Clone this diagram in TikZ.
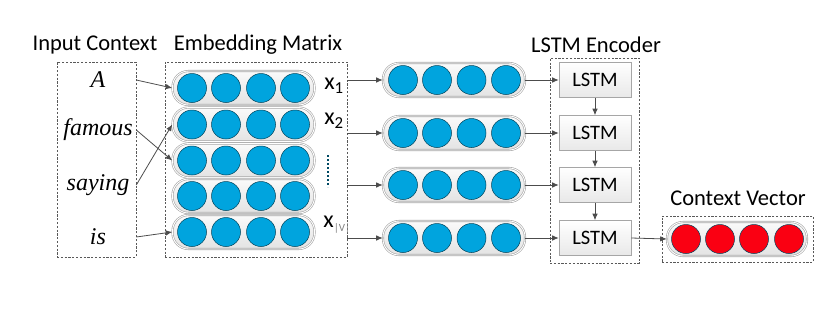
\documentclass[tikz,border=0pt]{standalone}
\usepackage{fontspec}
\setmainfont{Carlito}
\newfontfamily\wordfont{Liberation Serif}
\usetikzlibrary{arrows.meta,positioning}
\definecolor{unitblue}{RGB}{0,164,222}
\definecolor{unitred}{RGB}{250,0,18}
\begin{document}
\begin{tikzpicture}[
  x=1pt, y=-1pt,
  title/.style={font=\fontsize{22.5}{24}\selectfont, inner sep=0pt},
  word/.style={font=\wordfont\itshape\fontsize{24}{26}\selectfont, inner sep=0pt},
  xlab/.style={font=\fontsize{24}{26}\selectfont, inner sep=0pt},
  group/.style={draw=gray!70!black, dash pattern=on 2.2pt off 1.6pt,
    line width=0.6pt, inner sep=0pt},
  pill/.style={draw=gray!70, double=white, double distance=0.9pt,
    line width=0.6pt, rounded corners=16pt, top color=gray!4,
    bottom color=gray!22, minimum width=142pt, minimum height=34pt,
    inner sep=0pt},
  unit/.style={circle, draw=black!60!unitblue, line width=0.5pt,
    minimum size=29pt, inner sep=0pt},
  lstm/.style={draw=gray!70, line width=0.6pt, top color=white,
    bottom color=gray!18, minimum width=72pt, minimum height=35pt,
    font=\fontsize{20.5}{22}\selectfont},
  link/.style={draw=black!70, line width=0.8pt, -{Latex[length=6.5pt, width=5.5pt]}},
]
\useasboundingbox (0,0) rectangle (830,319);

% titles
\node[title] (tin) at (95,45) {Input Context};
\node[title] (temb) at (258,45) {Embedding Matrix};
\node[title] (tenc) at (596,45) {LSTM Encoder};
\node[title] (tctx) at (738,198) {Context Vector};

% input context
\node[group, minimum width=79pt, minimum height=195pt] (inbox) at (96.5,159.5) {};
\node[word] (w1) at (98,80) {A};
\node[word] (w2) at (98,130) {famous};
\node[word] (w3) at (98,185) {saying};
\node[word] (w4) at (98,237) {is};

% embedding matrix
\node[group, minimum width=182pt, minimum height=195pt] (emb) at (256,159.5) {};
\foreach \r/\y in {1/88,2/124.5,3/160.5,4/196,5/232}{
  \node[pill] (e\r) at (243.5,\y) {};
  \foreach \dx in {-51.5,-17.5,17.5,51.5}
    \node[unit, fill=unitblue] at (243.5+\dx,\y) {};
}
\node[xlab] (x1) at (334,86) {x\textsubscript{1}};
\node[xlab] (x2) at (334,121) {x\textsubscript{2}};
\node[xlab] (xv) at (337,225)
  {x\textsubscript{\color{gray}\fontsize{11}{12}\selectfont|V|}};
\draw[black!55!unitblue, line width=2.6pt,
  dash pattern=on 2pt off 2pt] (328,155) -- (328,187);

\draw[link] (inbox.east |- w1) -- (e1.west);
\draw[link] (inbox.east |- w2) -- (e3.west);
\draw[link] (inbox.east |- w3) -- (e2.west);
\draw[link] (inbox.east |- w4) -- (e5.west);

% lstm encoder
\node[group, minimum width=89pt, minimum height=205pt] (enc) at (594.5,160.5) {};
\foreach \r/\y in {1/80,2/133,3/185,4/238}{
  \node[pill] (v\r) at (454,\y) {};
  \foreach \dx in {-51,-17,17.5,52}
    \node[unit, fill=unitblue] at (454+\dx,\y) {};
  \node[lstm] (l\r) at (595,\y) {LSTM};
  \draw[link] (emb.east |- v\r) -- (v\r.west);
  \draw[link] (v\r.east) -- (l\r.west);
}
\foreach \a/\b in {1/2,2/3,3/4}
  \draw[link] (l\a.south) -- (l\b.north);

% context vector
\node[group, minimum width=151pt, minimum height=46pt] (ctx) at (737.5,239) {};
\node[pill, minimum width=140pt] (c) at (737,239) {};
\foreach \dx in {-51,-17,17,52}
  \node[unit, fill=unitred] at (737+\dx,239) {};
\draw[link] (l4.east) -- (c.west);
\end{tikzpicture}
\end{document}
